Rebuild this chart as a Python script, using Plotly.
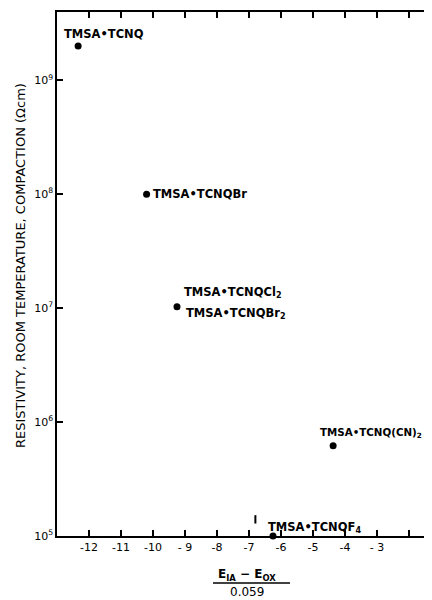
import math
import plotly.graph_objects as go

# Data
compounds = ["TMSA•TCNQ", "TMSA•TCNQBr", "TMSA•TCNQCl2/Br2", "TMSA•TCNQ(CN)2", "TMSA•TCNQF4"]
x_vals = [-12.34, -10.2, -9.25, -4.37, -6.25]
resistivity = [2.0e9, 1.0e8, 1.03e7, 6.2e5, 1.0e5]

# small isolated mark near TCNQF4
mark_x = [-6.8]
mark_y = [1.4e5]

y_tickvals = [1e5, 1e6, 1e7, 1e8, 1e9]
y_ticktext = ["10<sup>5</sup>", "10<sup>6</sup>", "10<sup>7</sup>", "10<sup>8</sup>", "10<sup>9</sup>"]
x_tickvals = [-12, -11, -10, -9, -8, -7, -6, -5, -4, -3, -2]
x_ticktext = ["-12", "-11", "-10", "- 9", "-8", "-7", "-6", "-5", "-4", "- 3", " "]

FONT = "DejaVu Sans, sans-serif"

# page has an 8px body margin; compensate so the plot area sits at
# page x 57..432, y 12..536
OFF = 8
W, H = 432 - OFF, 600 - OFF
L, T = 57 - OFF, 12 - OFF
B = H - (536 - OFF)
PW = W - L
PH = H - T - B

fig = go.Figure()
fig.add_trace(go.Scatter(x=x_vals, y=resistivity, mode="markers",
                         marker=dict(color="black", size=7), cliponaxis=False,
                         showlegend=False))
fig.add_trace(go.Scatter(x=mark_x, y=mark_y, mode="markers",
                         marker=dict(symbol="line-ns", size=6, line=dict(color="black", width=2)),
                         showlegend=False))

# labels: (text, point index, xshift, yshift, size)
labels = [
    ("TMSA•TCNQ", 0, -16, 12, 11.5),
    ("TMSA•TCNQBr", 1, 4, 0, 11.5),
    ("TMSA•TCNQCl<sub>2</sub>", 2, 5, 14, 11.5),
    ("TMSA•TCNQBr<sub>2</sub>", 2, 7, -7, 11.5),
    ("TMSA•TCNQ(CN)<sub>2</sub>", 3, -15, 13, 10.3),
    ("TMSA•TCNQF<sub>4</sub>", 4, -7, 9, 11.5),
]
for text, i, dx, dy, fs in labels:
    fig.add_annotation(x=x_vals[i], y=math.log10(resistivity[i]),
                       xref="x", yref="y", text="<b>" + text + "</b>", showarrow=False,
                       xanchor="left", yanchor="middle", xshift=dx, yshift=dy,
                       font=dict(family=FONT, size=fs, color="black"))

# y-axis title
fig.add_annotation(x=0, xshift=-37, xref="paper", y=(536 - 266) / PH, yref="paper",
                   text="RESISTIVITY, ROOM TEMPERATURE, COMPACTION (\u03a9cm)",
                   showarrow=False, textangle=-90, xanchor="center", yanchor="middle",
                   font=dict(family=FONT, size=13, color="black"))

# x-axis title as fraction
xc = (247 - 57) / PW
fig.add_annotation(x=xc, xref="paper", y=0, yref="paper", yanchor="middle", yshift=-39,
                   text="<b>E<sub>IA</sub> \u2212 E<sub>OX</sub></b>", showarrow=False,
                   font=dict(family=FONT, size=12, color="black"))
fig.add_annotation(x=xc, xref="paper", y=0, yref="paper", yanchor="middle", yshift=-56,
                   text="0.059", showarrow=False,
                   font=dict(family=FONT, size=12, color="black"))
fig.add_shape(type="line", xref="paper", yref="paper",
              x0=(213 - 57) / PW, x1=(290 - 57) / PW,
              y0=(536 - 583) / PH, y1=(536 - 583) / PH,
              line=dict(color="black", width=1.5))

fig.update_layout(
    width=W, height=H,
    margin=dict(l=L, r=0, t=T, b=B, pad=0, autoexpand=False),
    plot_bgcolor="white", paper_bgcolor="white",
    font=dict(family=FONT, size=11, color="black"),
    xaxis=dict(range=[-13, -1.28], showline=True, linecolor="black", linewidth=1.5,
               ticks="inside", ticklen=6, tickwidth=1.5, tickcolor="black", automargin=False,
               tickvals=x_tickvals, ticktext=x_ticktext, showgrid=False, zeroline=False,
               tickfont=dict(family=FONT, size=11)),
    xaxis2=dict(range=[-13, -1.28], overlaying="x", side="top", showline=True, automargin=False,
                linecolor="black", linewidth=1.5, ticks="inside", ticklen=6, tickwidth=1.5,
                tickcolor="black", tickvals=x_tickvals, showticklabels=False,
                showgrid=False, zeroline=False),
    yaxis=dict(type="log", range=[5, 9.6], showline=True, linecolor="black", linewidth=1.5,
               ticks="inside", ticklen=6, tickwidth=1.5, tickcolor="black", automargin=False,
               tickvals=y_tickvals, ticktext=y_ticktext, showgrid=False, zeroline=False,
               tickfont=dict(family=FONT, size=11)),
)
# dummy trace to activate xaxis2
fig.add_trace(go.Scatter(x=[None], y=[None], xaxis="x2", showlegend=False))

fig.write_html("out.html")
